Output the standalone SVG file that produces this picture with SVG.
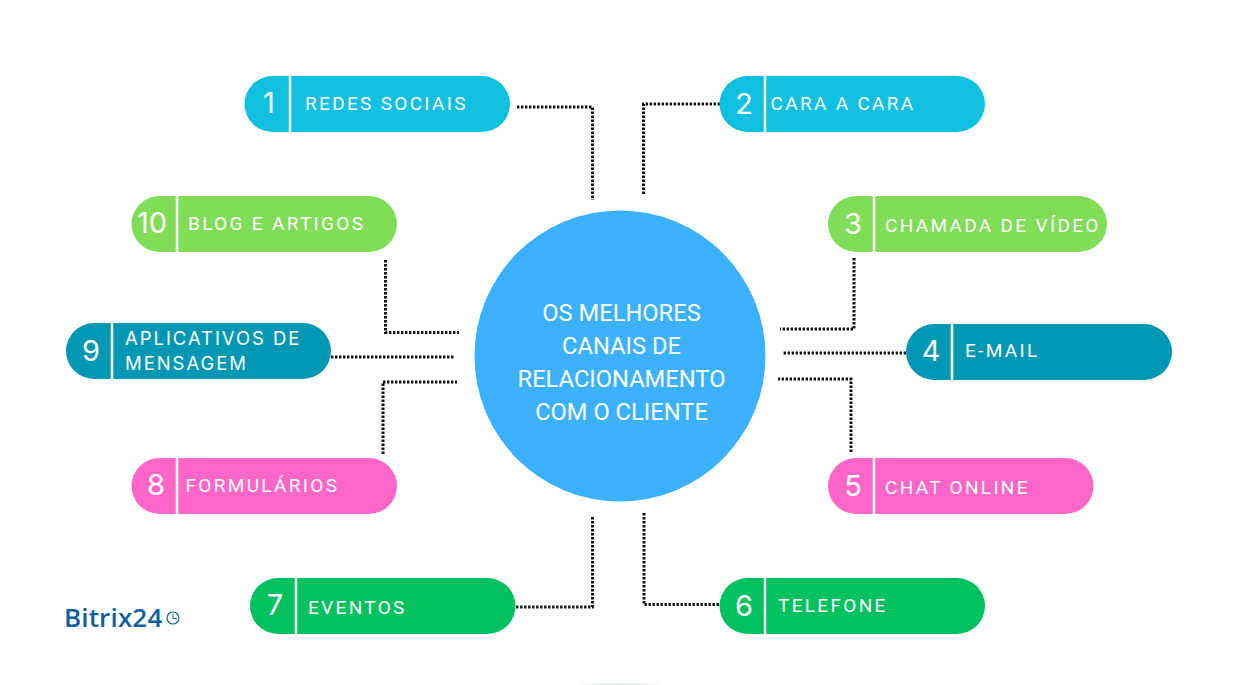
<svg xmlns="http://www.w3.org/2000/svg" width="1243" height="685" viewBox="0 0 1243 685">
<style>
.lb{font-family:Roboto,"Liberation Sans",sans-serif;font-size:19px;letter-spacing:2.320px;fill:#fff}
.li{font-family:Inter,Roboto,sans-serif;font-size:18.500px;letter-spacing:1.950px;fill:#fff}
.n{font-family:Inter,Roboto,"Liberation Sans",sans-serif;font-size:29px;fill:#fff;text-anchor:middle}
.d{stroke:#fff;stroke-width:2.500}
.t{font-family:Roboto,"Liberation Sans",sans-serif;font-size:23.700px;fill:#fff;text-anchor:middle}
#connectors path{fill:none;stroke:#111;stroke-width:3;stroke-dasharray:2.400 1.600}
</style>
<rect width="1243" height="685" fill="#fff"/>
<path d="M578 685Q620 681 662 685Z" fill="#e6ebea"/>
<g id="connectors">
<path d="M517 107H592.500V200"/>
<path d="M720 104H643.500V195"/>
<path d="M854 258V329H780"/>
<path d="M906 353H782"/>
<path d="M851 452V379H778"/>
<path d="M644 513V604.500H720"/>
<path d="M592.500 517V607H516"/>
<path d="M383 454V382H457"/>
<path d="M331 357H455"/>
<path d="M385.500 260V332.500H459"/>
</g>
<g id="center"><circle cx="620" cy="356" r="145.500" fill="#3bb1ff"/>
<text class="t" x="621.500" y="320.500">OS MELHORES</text><text class="t" x="621.500" y="353.500">CANAIS DE</text><text class="t" x="621.500" y="386.500">RELACIONAMENTO</text><text class="t" x="621.500" y="419.500">COM O CLIENTE</text></g>
<g id="node1"><rect x="244.500" y="76" width="265.500" height="56" rx="28" fill="#0fc0e0"/><path class="d" d="M290 76V132"/><text class="n" x="269" y="113">1</text><text class="lb" x="305" y="110">REDES SOCIAIS</text></g>
<g id="node2"><rect x="719.500" y="76" width="265.500" height="56" rx="28" fill="#0fc0e0"/><path class="d" d="M765 76V132"/><text class="n" x="744" y="114">2</text><text class="lb" x="770.500" y="110">CARA A CARA</text></g>
<g id="node3"><rect x="828" y="196" width="279" height="56" rx="28" fill="#81dc58"/><path class="d" d="M874 196V252"/><text class="n" x="853" y="234">3</text><text class="lb" x="885" y="232">CHAMADA DE VÍDEO</text></g>
<g id="node4"><rect x="906" y="324" width="266" height="56" rx="28" fill="#0097b4"/><path class="d" d="M952 324V380"/><text class="n" x="931" y="361">4</text><text class="lb" x="965" y="357">E-MAIL</text></g>
<g id="node5"><rect x="828" y="458" width="265.500" height="56" rx="28" fill="#ff66c8"/><path class="d" d="M874 458V514"/><text class="n" x="853" y="496">5</text><text class="lb" x="885" y="494">CHAT ONLINE</text></g>
<g id="node6"><rect x="719.500" y="578" width="265.500" height="56" rx="28" fill="#00c15f"/><path class="d" d="M765 578V634"/><text class="n" x="744" y="616">6</text><text class="lb" x="778" y="612">TELEFONE</text></g>
<g id="node7"><rect x="250" y="578" width="265.500" height="56" rx="28" fill="#00c15f"/><path class="d" d="M296 578V634"/><text class="n" x="275" y="615">7</text><text class="lb" x="308" y="614">EVENTOS</text></g>
<g id="node8"><rect x="131.500" y="458" width="265.500" height="56" rx="28" fill="#ff66c8"/><path class="d" d="M177 458V514"/><text class="n" x="156" y="495">8</text><text class="lb" x="185.500" y="492">FORMULÁRIOS</text></g>
<g id="node9"><rect x="66" y="323" width="265" height="56" rx="28" fill="#0097b4"/><path class="d" d="M112 323V379"/><text class="n" x="91" y="361">9</text><text class="li" x="125" y="345">APLICATIVOS DE</text><text class="li" x="125" y="370">MENSAGEM</text></g>
<g id="node10"><rect x="131.500" y="196" width="265.500" height="56" rx="28" fill="#81dc58"/><path class="d" d="M177 196V252"/><text class="n" x="152" y="233">10</text><text class="lb" x="188" y="230">BLOG E ARTIGOS</text></g>
<g id="logo"><text x="64" y="627" font-family="'Open Sans','Noto Sans',sans-serif" font-size="26" font-weight="600" letter-spacing="0.150" fill="#0f5f9e">Bitrix24</text><circle cx="173" cy="618" r="6" fill="none" stroke="#0f5f9e" stroke-width="1.200"/><path d="M173 614V618.500H177" fill="none" stroke="#0f5f9e" stroke-width="1"/></g>
</svg>
